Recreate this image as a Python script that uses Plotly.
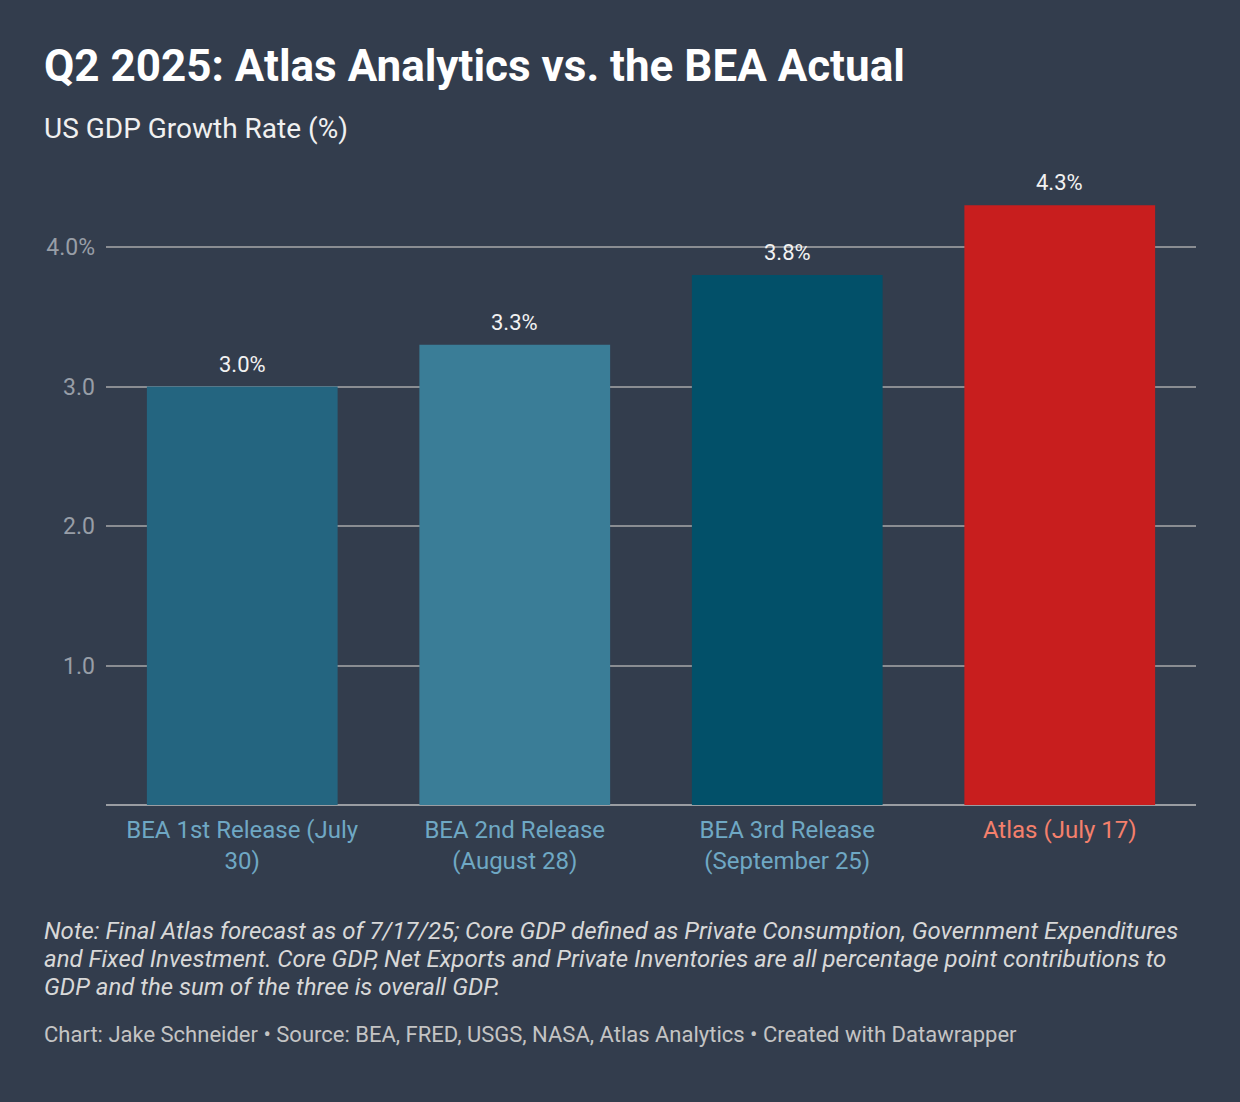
import plotly.graph_objects as go

# Data
categories = ["BEA 1st Release (July 30)", "BEA 2nd Release (August 28)",
              "BEA 3rd Release (September 25)", "Atlas (July 17)"]
tick_labels = ["BEA 1st Release (July<br>30)", "BEA 2nd Release<br>(August 28)",
               "BEA 3rd Release<br>(September 25)", "Atlas (July 17)"]
gdp_growth = [3.0, 3.3, 3.8, 4.3]
y_ticks = [1, 2, 3, 4]
y_tick_labels = ["1.0", "2.0", "3.0", "4.0%"]

note_lines = [
    "Note: Final Atlas forecast as of 7/17/25; Core GDP defined as Private Consumption, Government Expenditures",
    "and Fixed Investment. Core GDP, Net Exports and Private Inventories are all percentage point contributions to",
    "GDP and the sum of the three is overall GDP.",
]
credit = "Chart: Jake Schneider • Source: BEA, FRED, USGS, NASA, Atlas Analytics • Created with Datawrapper"

bar_colors = ["#246580", "#3a7d97", "#025069", "#c81e1e"]
label_colors = ["#6fa8c4", "#6fa8c4", "#6fa8c4", "#f4806c"]

bg = "#333d4d"
font = "Roboto"

# plot area: 106..1196 px wide, 170..805 px tall
plot_h = 635
top = 170


def py(px_y):
    # page pixel -> paper coordinate
    return 1 + (top - px_y) / plot_h


left_x = -64 / 1090

fig = go.Figure()
fig.add_trace(go.Bar(
    x=categories,
    y=gdp_growth,
    marker=dict(color=bar_colors, line=dict(width=0)),
    hoverinfo="skip",
))

# value labels above the bars
for cat, v in zip(categories, gdp_growth):
    fig.add_annotation(
        x=cat, y=v, text=f"{v:.1f}%", showarrow=False,
        yanchor="bottom", yshift=8,
        font=dict(family=font, size=22, color="#f2f2f2"),
    )

fig.update_layout(
    width=1240, height=1102,
    paper_bgcolor=bg, plot_bgcolor=bg,
    margin=dict(l=106, r=44, t=top, b=1102 - 805),
    bargap=0.3,
    showlegend=False,
    font=dict(family=font, color="#e0e0e0"),
    xaxis=dict(
        tickvals=categories,
        ticktext=[f"<span style='color:{c}'>{t}</span>" for t, c in zip(tick_labels, label_colors)],
        tickfont=dict(family=font, size=24),
        showgrid=False, showline=False, ticks="", zeroline=False,
        ticklabelstandoff=8,
    ),
    yaxis=dict(
        range=[0, 4.552],
        tickvals=y_ticks, ticktext=y_tick_labels,
        tickfont=dict(family=font, size=23, color="#989ea7"),
        gridcolor="#8a8d92", gridwidth=1.5,
        zeroline=True, zerolinecolor="#9a9da2", zerolinewidth=2,
        ticks="", ticklabelstandoff=10,
    ),
)

fig.add_annotation(
    text="<b>Q2 2025: Atlas Analytics vs. the BEA Actual</b>",
    xref="paper", yref="paper", x=left_x, y=py(66),
    xanchor="left", yanchor="middle", showarrow=False,
    font=dict(family=font, size=44, color="#ffffff"),
)
fig.add_annotation(
    text="US GDP Growth Rate (%)",
    xref="paper", yref="paper", x=left_x, y=py(128),
    xanchor="left", yanchor="middle", showarrow=False,
    font=dict(family=font, size=28, color="#f0f0f0"),
)
for i, line in enumerate(note_lines):
    fig.add_annotation(
        text=f"<i>{line}</i>",
        xref="paper", yref="paper", x=left_x, y=py(931 + 28 * i),
        xanchor="left", yanchor="middle", align="left", showarrow=False,
        font=dict(family=font, size=24, color="#d8d8d8"),
    )
fig.add_annotation(
    text=credit,
    xref="paper", yref="paper", x=left_x, y=py(1034),
    xanchor="left", yanchor="middle", showarrow=False,
    font=dict(family=font, size=22, color="#c4c4c4"),
)

fig.write_html("out.html", config={"displayModeBar": False},
               post_script="document.body.style.margin='0';")
